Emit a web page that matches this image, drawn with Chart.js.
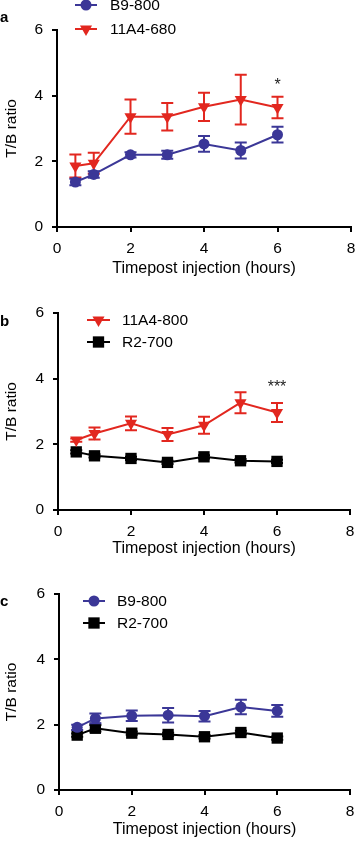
<!DOCTYPE html>
<html>
<head>
<meta charset="utf-8">
<script src="https://cdn.jsdelivr.net/npm/chart.js@4/dist/chart.umd.min.js"></script>
<style>
  body { margin: 0; background: #fff; }
  #wrap { position: relative; width: 358px; height: 841px; overflow: hidden; }
  canvas { position: absolute; left: 0; }
</style>
</head>
<body>
<div id="wrap">
  <canvas id="chartA" width="358" height="280" style="top:0px"></canvas>
  <canvas id="chartB" width="358" height="280" style="top:280px"></canvas>
  <canvas id="chartC" width="358" height="281" style="top:560px"></canvas>
</div>
<script>
// time points (hours)
const hours = [0.5, 1, 2, 3, 4, 5, 6];
const xTicks = [0, 2, 4, 6, 8];
const yTicks = [0, 2, 4, 6];

// panel a
const aB9800 = [1.37, 1.6, 2.2, 2.2, 2.53, 2.33, 2.81];
const aB9800Err = [0.1, 0.1, 0.08, 0.12, 0.24, 0.24, 0.24];
const a11A4680 = [1.86, 1.94, 3.36, 3.36, 3.66, 3.88, 3.64];
const a11A4680Err = [0.35, 0.32, 0.52, 0.42, 0.43, 0.76, 0.33];

// panel b
const b11A4800 = [2.13, 2.33, 2.64, 2.3, 2.58, 3.27, 2.97];
const b11A4800Err = [0.05, 0.18, 0.21, 0.2, 0.26, 0.32, 0.29];
const bR2700 = [1.77, 1.65, 1.57, 1.45, 1.62, 1.5, 1.48];
const bR2700Err = [0.05, 0.05, 0.05, 0.05, 0.05, 0.05, 0.05];

// panel c
const cB9800 = [1.92, 2.19, 2.27, 2.29, 2.26, 2.54, 2.42];
const cB9800Err = [0.08, 0.15, 0.16, 0.22, 0.16, 0.22, 0.18];
const cR2700 = [1.68, 1.89, 1.74, 1.7, 1.63, 1.76, 1.59];
const cR2700Err = [0.05, 0.1, 0.05, 0.05, 0.05, 0.05, 0.05];

const FONT = "'Liberation Sans', Arial, Helvetica, sans-serif";
const RED = "#e2271f";
const BLUE = "#3b3797";
const BLACK = "#000000";

const styles = {
  blue: { color: BLUE, pointStyle: "circle", radius: 5.5, rotation: 0 },
  red: { color: RED, pointStyle: "triangle", radius: 7, rotation: 180 },
  black: { color: BLACK, pointStyle: "rect", radius: 8, rotation: 0 },
};

function makeDataset(label, values, errs, style) {
  return {
    label: label,
    data: hours.map((h, i) => ({ x: h, y: values[i] })),
    errs: errs,
    borderColor: style.color,
    backgroundColor: style.color,
    borderWidth: 2,
    pointStyle: style.pointStyle,
    pointRadius: style.radius,
    pointRotation: style.rotation,
    pointBorderWidth: 0,
    pointBackgroundColor: style.color,
    tension: 0,
    fill: false,
  };
}

// error bars drawn per dataset, using the chart's scales
const errorBars = {
  id: "errorBars",
  beforeDatasetDraw(chart, args) {
    const ds = chart.data.datasets[args.index];
    if (!ds.errs) return;
    const ctx = chart.ctx;
    const xs = chart.scales.x, ys = chart.scales.y;
    ctx.save();
    ctx.strokeStyle = ds.borderColor;
    ctx.lineWidth = 2;
    ds.data.forEach((p, i) => {
      const e = ds.errs[i];
      const px = xs.getPixelForValue(p.x);
      const top = ys.getPixelForValue(p.y + e);
      const bot = ys.getPixelForValue(p.y - e);
      ctx.beginPath();
      ctx.moveTo(px, top); ctx.lineTo(px, bot);
      ctx.moveTo(px - 6, top); ctx.lineTo(px + 6, top);
      ctx.moveTo(px - 6, bot); ctx.lineTo(px + 6, bot);
      ctx.stroke();
    });
    ctx.restore();
  },
};

function drawMarker(ctx, style, x, y) {
  ctx.fillStyle = style.color;
  ctx.beginPath();
  if (style.pointStyle === "circle") {
    ctx.arc(x, y, style.radius, 0, Math.PI * 2);
  } else if (style.pointStyle === "triangle") {
    const r = style.radius;
    ctx.moveTo(x, y + r);
    ctx.lineTo(x - r * Math.sin(Math.PI / 3), y - r / 2);
    ctx.lineTo(x + r * Math.sin(Math.PI / 3), y - r / 2);
    ctx.closePath();
  } else {
    const s = style.radius * Math.SQRT1_2;
    ctx.rect(x - s, y - s, 2 * s, 2 * s);
  }
  ctx.fill();
}

// legend, panel letter and significance marks
const extras = {
  id: "extras",
  afterDraw(chart, args, opts) {
    const ctx = chart.ctx;
    ctx.save();
    ctx.fillStyle = "#000";
    ctx.font = "bold 15px " + FONT;
    ctx.textBaseline = "middle";
    ctx.textAlign = "left";
    ctx.fillText(opts.letter, 0, opts.letterY);

    opts.legend.forEach((item, i) => {
      const y = opts.legendY[i];
      ctx.strokeStyle = item.style.color;
      ctx.lineWidth = 2;
      ctx.beginPath();
      ctx.moveTo(opts.legendX[0], y);
      ctx.lineTo(opts.legendX[1], y);
      ctx.stroke();
      drawMarker(ctx, item.style, (opts.legendX[0] + opts.legendX[1]) / 2, y);
      ctx.fillStyle = "#000";
      ctx.font = "15.5px " + FONT;
      ctx.fillText(item.label, opts.legendX[2], y + 1);
    });

    if (opts.sig) {
      const px = chart.scales.x.getPixelForValue(opts.sig.x);
      const py = chart.scales.y.getPixelForValue(opts.sig.y);
      ctx.font = "16px " + FONT;
      ctx.textAlign = "center";
      ctx.fillStyle = "#222";
      ctx.fillText(opts.sig.text, px, py);
    }
    ctx.restore();
  },
};

function makeChart(id, datasets, cfg) {
  const ctx = document.getElementById(id).getContext("2d");
  return new Chart(ctx, {
    type: "line",
    data: { datasets: datasets },
    plugins: [errorBars, extras],
    options: {
      responsive: false,
      animation: false,
      devicePixelRatio: 1,
      layout: { padding: { top: cfg.padTop, right: cfg.padRight, left: 0, bottom: 0 } },
      plugins: {
        legend: { display: false },
        tooltip: { enabled: false },
        extras: cfg.extras,
      },
      scales: {
        x: {
          type: "linear",
          min: 0,
          max: 8,
          afterBuildTicks: (s) => { s.ticks = xTicks.map(v => ({ value: v })); },
          afterFit: (s) => {
            s.height = cfg.xHeight;
            s.paddingLeft = 0;
            s.paddingRight = 0;
          },
          ticks: { color: "#000", font: { family: FONT, size: 15.5 }, padding: 7, maxRotation: 0 },
          grid: { drawOnChartArea: false, drawTicks: true, tickLength: 5, color: "#000", lineWidth: 2 },
          border: { color: "#000", width: 2 },
          title: { display: true, text: "Timepost injection (hours)", color: "#000",
                   font: { family: FONT, size: 16 }, padding: { top: 0, bottom: 2 } },
        },
        y: {
          min: 0,
          max: 6,
          afterBuildTicks: (s) => { s.ticks = yTicks.map(v => ({ value: v })); },
          afterFit: (s) => {
            s.width = cfg.yWidth;
            s.paddingTop = 0;
            s.paddingBottom = 0;
          },
          ticks: { color: "#000", font: { family: FONT, size: 15.5 }, padding: 9 },
          grid: { drawOnChartArea: false, drawTicks: true, tickLength: 5, color: "#000", lineWidth: 2 },
          border: { color: "#000", width: 2 },
          title: { display: true, text: "T/B ratio", color: "#000",
                   font: { family: FONT, size: 15.5 }, padding: { top: 2, bottom: 0 } },
        },
      },
    },
  });
}

makeChart("chartA", [
  makeDataset("B9-800", aB9800, aB9800Err, styles.blue),
  makeDataset("11A4-680", a11A4680, a11A4680Err, styles.red),
], {
  padTop: 30, padRight: 6, xHeight: 53, yWidth: 57,
  extras: {
    letter: "a", letterY: 18,
    legendX: [75, 97, 110], legendY: [5, 29],
    legend: [{ label: "B9-800", style: styles.blue }, { label: "11A4-680", style: styles.red }],
    sig: { x: 6, y: 4.3, text: "*" },
  },
});

makeChart("chartB", [
  makeDataset("11A4-800", b11A4800, b11A4800Err, styles.red),
  makeDataset("R2-700", bR2700, bR2700Err, styles.black),
], {
  padTop: 33, padRight: 5, xHeight: 50, yWidth: 58,
  extras: {
    letter: "b", letterY: 42,
    legendX: [87, 110, 122], legendY: [40, 62],
    legend: [{ label: "11A4-800", style: styles.red }, { label: "R2-700", style: styles.black }],
    sig: { x: 6, y: 3.72, text: "***" },
  },
});

makeChart("chartC", [
  makeDataset("B9-800", cB9800, cB9800Err, styles.blue),
  makeDataset("R2-700", cR2700, cR2700Err, styles.black),
], {
  padTop: 34, padRight: 4, xHeight: 51, yWidth: 59,
  extras: {
    letter: "c", letterY: 42,
    legendX: [83, 105, 117], legendY: [41, 63],
    legend: [{ label: "B9-800", style: styles.blue }, { label: "R2-700", style: styles.black }],
    sig: null,
  },
});
</script>
</body>
</html>
